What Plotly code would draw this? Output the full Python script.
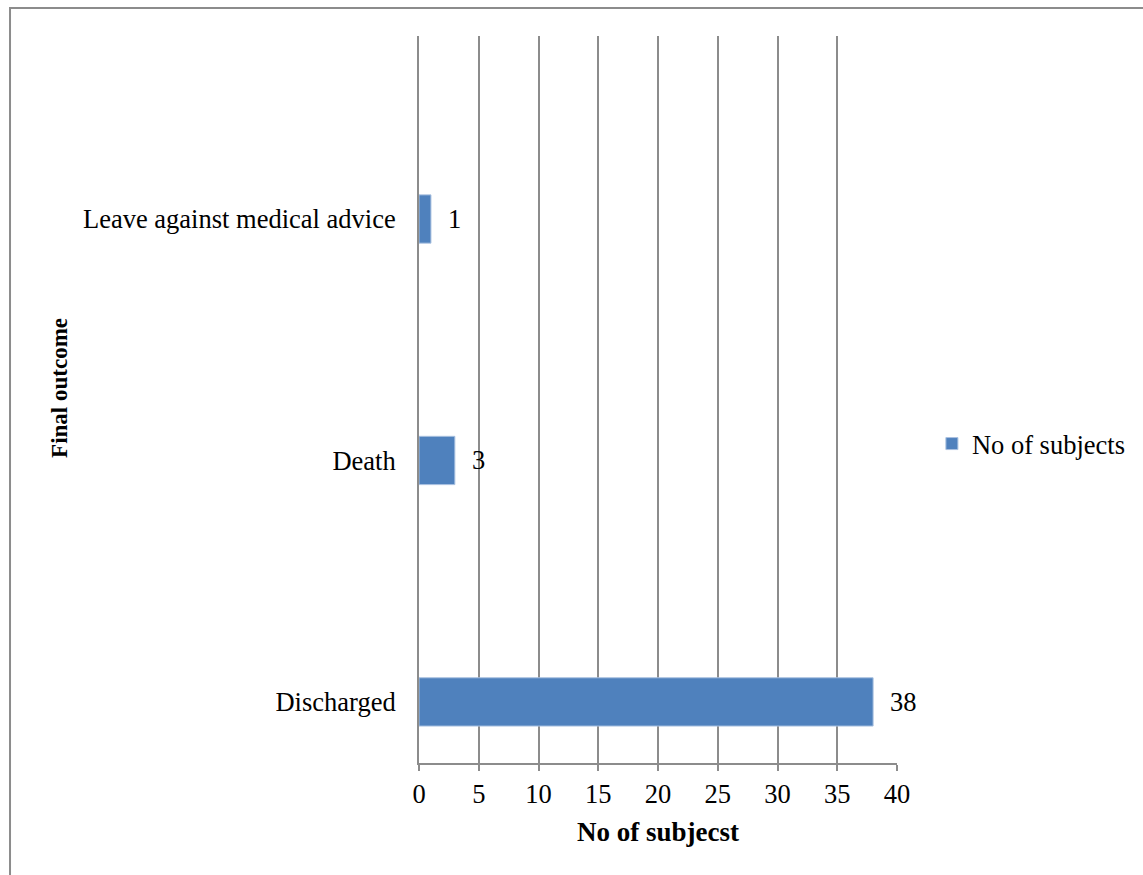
import plotly.graph_objects as go

# Final outcome of subjects
outcomes = ["Discharged", "Death", "Leave against medical advice"]
subjects = [38, 3, 1]
x_ticks = [0, 5, 10, 15, 20, 25, 30, 35, 40]

FONT = "Liberation Serif, Times New Roman, serif"
GRID = "#8c8c8c"
TXT = 26.5

fig = go.Figure()
fig.add_trace(go.Bar(
    y=outcomes,
    x=subjects,
    orientation="h",
    name="No of subjects",
    width=0.2,
    marker=dict(color="#4f81bd", line=dict(color="#a9c1e0", width=1)),
    showlegend=True,
))

# value labels to the right of each bar
for cat, val in zip(outcomes, subjects):
    fig.add_annotation(
        x=val, y=cat, text=str(val), showarrow=False,
        xanchor="left", yanchor="middle", xshift=15,
        font=dict(family=FONT, size=TXT, color="#000000"),
    )

# axis titles
fig.add_annotation(
    x=0.5, y=-0.095, xref="paper", yref="paper", xanchor="center", yanchor="middle",
    text="<b>No of subjecst</b>", showarrow=False,
    font=dict(family=FONT, size=27, color="#000000"),
)
fig.add_annotation(
    x=-0.751, y=0.516, xref="paper", yref="paper", xanchor="center", yanchor="middle",
    text="<b>Final outcome</b>", showarrow=False, textangle=-90,
    font=dict(family=FONT, size=23, color="#000000"),
)

# outer chart border
fig.add_shape(type="rect", xref="paper", yref="paper",
              x0=-0.8556, x1=1.56, y0=-0.25, y1=1.0385,
              line=dict(color="#8c8c8c", width=2), layer="below")

fig.update_layout(
    width=1143, height=875,
    margin=dict(l=419, r=246, t=36, b=112, autoexpand=False),
    plot_bgcolor="white", paper_bgcolor="white",
    font=dict(family=FONT, size=TXT, color="#000000"),
    bargap=0.8,
    legend=dict(x=1.073, y=0.439, xanchor="left", yanchor="middle",
                font=dict(family=FONT, size=TXT), itemwidth=30,
                bgcolor="rgba(0,0,0,0)"),
    xaxis=dict(
        range=[0, 40], tickvals=x_ticks, ticktext=[str(t) for t in x_ticks],
        showgrid=True, gridcolor=GRID, gridwidth=2,
        showline=True, linecolor=GRID, linewidth=2,
        ticks="outside", ticklen=6, tickcolor=GRID, tickwidth=2,
        zeroline=False, tickfont=dict(size=TXT),
    ),
    yaxis=dict(
        categoryorder="array", categoryarray=outcomes,
        range=[-0.253, 2.758],
        showgrid=False, showline=True, linecolor=GRID, linewidth=2,
        zeroline=False, ticks="", tickfont=dict(size=TXT),
        ticklabelstandoff=16,
    ),
)

fig.write_html("out.html")
